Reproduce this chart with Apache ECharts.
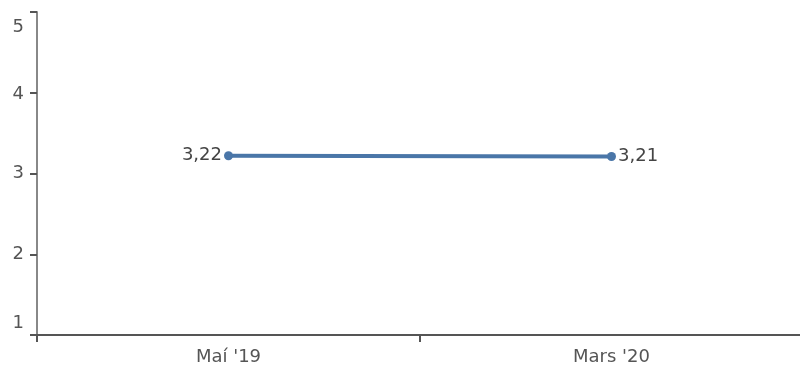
<!DOCTYPE html>
<html>
<head>
<meta charset="utf-8">
<script src="https://cdn.jsdelivr.net/npm/echarts@6/dist/echarts.min.js"></script>
<style>html,body{margin:0;padding:0;background:#fff}#c{width:800px;height:370px}</style>
</head>
<body>
<div id="c"></div>
<script>
var categories = ["Maí '19", "Mars '20"];
var values = [3.22, 3.21];
var yTicks = [1, 2, 3, 4, 5];

var chart = echarts.init(document.getElementById('c'), null, {renderer: 'canvas'});
var font = "'DejaVu Sans', sans-serif";
var lab = {fontSize: 18, fontFamily: font, color: '#555'};
chart.setOption({
  animation: false,
  grid: {left: 37, top: 12, width: 766, height: 323, containLabel: false, outerBoundsMode: 'none'},
  xAxis: {
    type: 'category',
    data: categories,
    boundaryGap: true,
    axisLine: {lineStyle: {color: '#555', width: 2}},
    axisTick: {show: true, length: 7, lineStyle: {color: '#555', width: 2}},
    axisLabel: {color: '#555', fontSize: 18, fontFamily: font, margin: 13},
    splitLine: {show: false}
  },
  yAxis: {
    type: 'value',
    min: yTicks[0], max: yTicks[yTicks.length - 1], interval: 1,
    axisLine: {show: true, lineStyle: {color: '#888', width: 2}},
    axisTick: {show: true, length: 7, lineStyle: {color: '#555', width: 2}},
    axisLabel: {
      color: '#555', fontSize: 18, fontFamily: font, margin: 13,
      formatter: function (v) {
        if (v === yTicks[yTicks.length - 1]) return '{top|' + v + '}';
        if (v === yTicks[0]) return '{bot|' + v + '}';
        if (v === 4) return '{m4|' + v + '}';
        return '{mid|' + v + '}';
      },
      rich: {
        top: Object.assign({padding: [30, 0, 0, 0]}, lab),
        bot: Object.assign({padding: [0, 0, 24, 0]}, lab),
        m4: Object.assign({padding: [4, 0, 0, 0]}, lab),
        mid: Object.assign({}, lab)
      }
    },
    splitLine: {show: false}
  },
  series: [{
    type: 'line',
    data: values.map(function (v, i) {
      return {value: v, label: {position: i === 0 ? 'left' : 'right'}};
    }),
    lineStyle: {color: '#4a76a8', width: 4},
    itemStyle: {color: '#4a76a8'},
    symbol: 'circle',
    symbolSize: 9,
    label: {
      show: true,
      fontSize: 18,
      fontFamily: font,
      color: '#444',
      distance: 2,
      formatter: function (p) { return p.value.toFixed(2).replace('.', ','); }
    }
  }]
});
</script>
</body>
</html>
